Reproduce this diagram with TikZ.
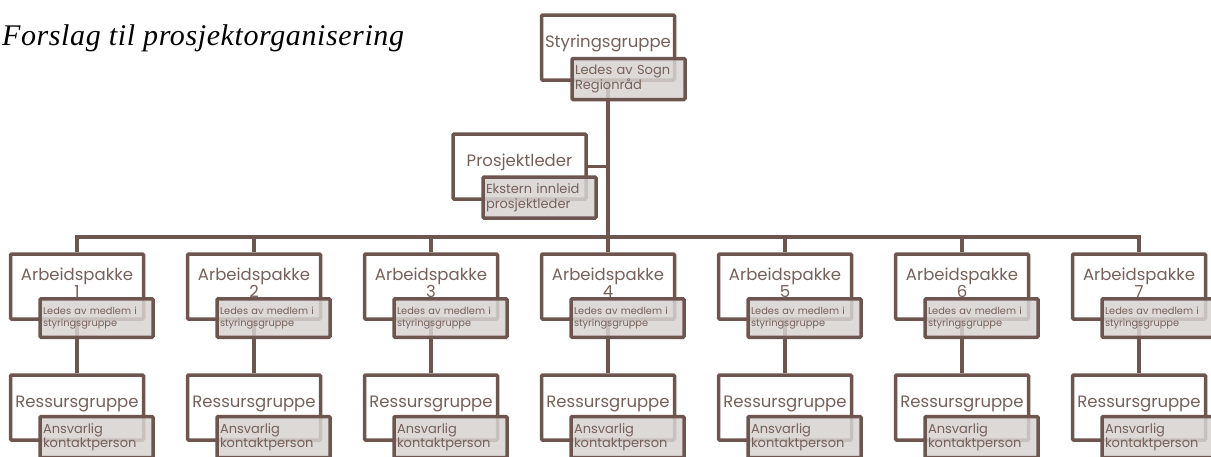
\documentclass[tikz,border=0pt]{standalone}
\usepackage{fontspec}
\setmainfont{Liberation Serif}
\newfontfamily\orgfont{Poppins}
\newfontfamily\titlefont[LetterSpace=2]{Liberation Serif}
\usepackage{tikz}
\definecolor{orgline}{RGB}{110,86,80}
\definecolor{orgtext}{RGB}{118,96,90}
\definecolor{orgfill}{RGB}{216,211,209}
\tikzset{mainbox/.style={draw=orgline, line width=3.5pt, fill=white, rounded corners=1pt,
		minimum width=133pt, minimum height=65pt, inner sep=0pt},
	boxtext/.style={text=orgtext, font=\orgfont\fontsize{16.5}{17}\selectfont, align=center},
	subbox/.style={draw=orgline, line width=3.5pt, fill=orgfill, fill opacity=0.85, text opacity=1,
		rounded corners=1pt, minimum height=38.5pt, text width=107pt, inner xsep=3pt,
		align=left, text=orgtext},
	subsmall/.style={font=\orgfont\fontsize{9.8}{12}\selectfont},
	sublarge/.style={font=\orgfont\fontsize{13}{14.5}\selectfont, minimum height=41pt},
	link/.style={draw=orgline, line width=3.5pt},
	title/.style={font=\titlefont\itshape\fontsize{30}{34}\selectfont, anchor=base west, inner sep=0pt}}

\begin{document}
\begin{tikzpicture}[x=1pt,y=-1pt]
		\useasboundingbox (0,0) rectangle (1211,456);
		\node[title] (title) at (2,45) {Forslag til prosjektorganisering};
		%		top of the organisation
		\node[mainbox, label={[boxtext, yshift=4pt]center:Styringsgruppe}] (styr) at (608,47.5) {};
		\node[mainbox, label={[boxtext, yshift=4pt]center:Prosjektleder}] (pl) at (519.5,166.5) {};
		%		work packages
		\node[mainbox, label={[boxtext, yshift=4pt]center:Arbeidspakke\\1}] (ap1) at (77,286.5) {};
		\node[mainbox, label={[boxtext, yshift=4pt]center:Arbeidspakke\\2}] (ap2) at (254,286.5) {};
		\node[mainbox, label={[boxtext, yshift=4pt]center:Arbeidspakke\\3}] (ap3) at (431,286.5) {};
		\node[mainbox, label={[boxtext, yshift=4pt]center:Arbeidspakke\\4}] (ap4) at (608,286.5) {};
		\node[mainbox, label={[boxtext, yshift=4pt]center:Arbeidspakke\\5}] (ap5) at (785,286.5) {};
		\node[mainbox, label={[boxtext, yshift=4pt]center:Arbeidspakke\\6}] (ap6) at (962,286.5) {};
		\node[mainbox, label={[boxtext, yshift=4pt]center:Arbeidspakke\\7}] (ap7) at (1139,286.5) {};
		%		resource groups
		\node[mainbox, label={[boxtext, yshift=4pt]center:Ressursgruppe}] (rg1) at (77,407.5) {};
		\node[mainbox, label={[boxtext, yshift=4pt]center:Ressursgruppe}] (rg2) at (254,407.5) {};
		\node[mainbox, label={[boxtext, yshift=4pt]center:Ressursgruppe}] (rg3) at (431,407.5) {};
		\node[mainbox, label={[boxtext, yshift=4pt]center:Ressursgruppe}] (rg4) at (608,407.5) {};
		\node[mainbox, label={[boxtext, yshift=4pt]center:Ressursgruppe}] (rg5) at (785,407.5) {};
		\node[mainbox, label={[boxtext, yshift=4pt]center:Ressursgruppe}] (rg6) at (962,407.5) {};
		\node[mainbox, label={[boxtext, yshift=4pt]center:Ressursgruppe}] (rg7) at (1139,407.5) {};
		%		connectors
		\coordinate (bus) at (608,237);
		\draw[link] (styr) -- (bus);
		\draw[link] (pl.east) -- (pl.east -| bus);
		\draw[link] (ap1.north) |- (bus);
		\draw[link] (ap2.north) |- (bus);
		\draw[link] (ap3.north) |- (bus);
		\draw[link] (ap4.north) -- (bus);
		\draw[link] (ap5.north) |- (bus);
		\draw[link] (ap6.north) |- (bus);
		\draw[link] (ap7.north) |- (bus);
		\draw[link] (ap1) -- (rg1);
		\draw[link] (ap2) -- (rg2);
		\draw[link] (ap3) -- (rg3);
		\draw[link] (ap4) -- (rg4);
		\draw[link] (ap5) -- (rg5);
		\draw[link] (ap6) -- (rg6);
		\draw[link] (ap7) -- (rg7);
		%		grey boxes on top
		\node[subbox, sublarge] (styrsub) at (628.5,79) {Ledes av Sogn\\Regionråd};
		\node[subbox, sublarge] (plsub) at (539.5,197.5) {Ekstern innleid\\prosjektleder};
		\node[subbox, subsmall] (ap1sub) at (96.5,318) {Ledes av medlem i\\styringsgruppe};
		\node[subbox, subsmall] (ap2sub) at (273.5,318) {Ledes av medlem i\\styringsgruppe};
		\node[subbox, subsmall] (ap3sub) at (450.5,318) {Ledes av medlem i\\styringsgruppe};
		\node[subbox, subsmall] (ap4sub) at (627.5,318) {Ledes av medlem i\\styringsgruppe};
		\node[subbox, subsmall] (ap5sub) at (804.5,318) {Ledes av medlem i\\styringsgruppe};
		\node[subbox, subsmall] (ap6sub) at (981.5,318) {Ledes av medlem i\\styringsgruppe};
		\node[subbox, subsmall] (ap7sub) at (1158.5,318) {Ledes av medlem i\\styringsgruppe};
		\node[subbox, sublarge] (rg1sub) at (96.5,437) {Ansvarlig\\kontaktperson};
		\node[subbox, sublarge] (rg2sub) at (273.5,437) {Ansvarlig\\kontaktperson};
		\node[subbox, sublarge] (rg3sub) at (450.5,437) {Ansvarlig\\kontaktperson};
		\node[subbox, sublarge] (rg4sub) at (627.5,437) {Ansvarlig\\kontaktperson};
		\node[subbox, sublarge] (rg5sub) at (804.5,437) {Ansvarlig\\kontaktperson};
		\node[subbox, sublarge] (rg6sub) at (981.5,437) {Ansvarlig\\kontaktperson};
		\node[subbox, sublarge] (rg7sub) at (1158.5,437) {Ansvarlig\\kontaktperson};
\end{tikzpicture}
\end{document}
